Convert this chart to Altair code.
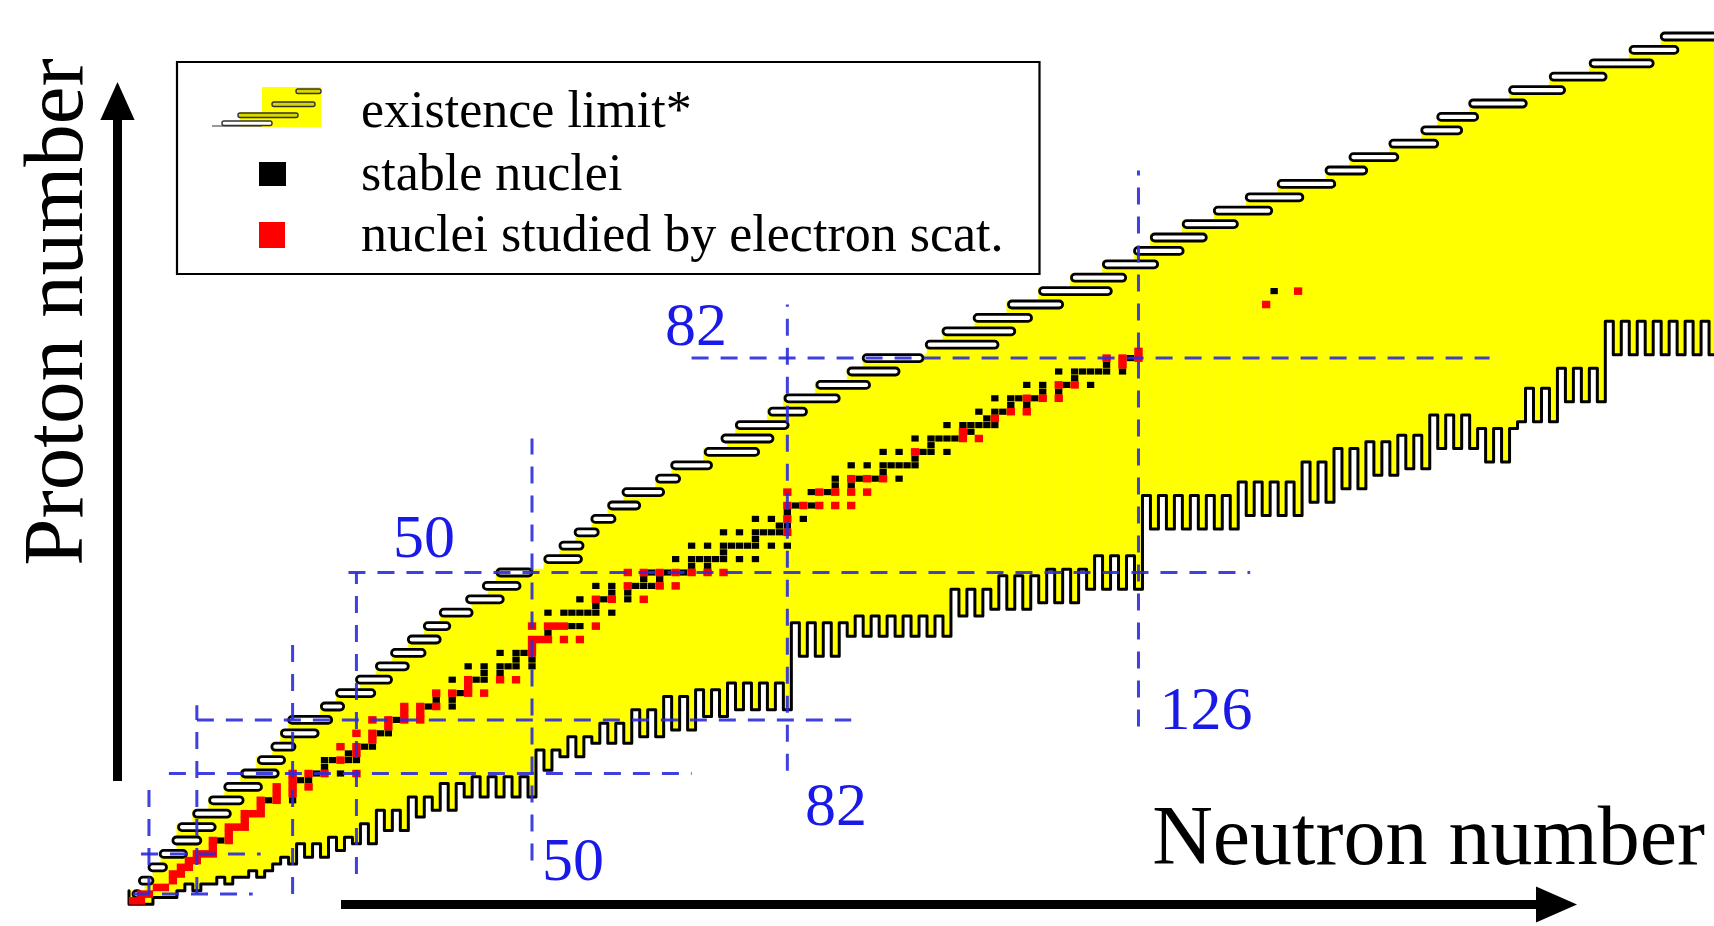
import altair as alt
import pandas as pd

W, H = 1714, 926

# ---------------- values ----------------
# proton-rich existence limit: rows (Z) with an unbound "finger", and its N extent
BAR_Z = [2, 4, 6, 8, 10, 12, 14, 16, 18, 20, 22, 24, 26, 28, 30, 32, 34, 36, 38, 40,
         42, 44, 46, 48, 50, 52, 54, 56, 58, 60, 62, 64, 66, 68, 70, 72, 74, 76, 78, 80,
         82, 84, 86, 88, 90, 92, 94, 96, 98, 100, 102, 104, 106, 108, 110, 112, 114, 116,
         118, 120, 122, 124, 126, 128, 130]
BAR_NL = [0.0, 0.8, 2.0, 3.4, 5.0, 5.7, 7.6, 9.6, 11.5, 13.6, 15.7, 17.4, 18.6, 19.5, 23.6,
          25.5, 28.0, 30.5, 32.4, 34.5, 36.5, 38.5, 41.8, 43.9, 45.6, 51.6, 53.5, 55.4, 57.5,
          59.6, 61.4, 65.6, 67.5, 71.7, 73.8, 75.6, 79.7, 81.7, 85.7, 89.6, 91.5, 99.4, 101.5,
          105.4, 109.7, 113.6, 117.6, 121.6, 125.5, 127.6, 131.6, 135.5, 139.5, 143.5, 149.5,
          152.5, 157.5, 161.5, 163.5, 167.5, 172.5, 177.6, 182.6, 187.6, 191.5]
BAR_NR = [1.0, 2.5, 4.2, 6.7, 8.5, 10.3, 12.2, 13.8, 16.1, 18.2, 19.0, 20.3, 23.2, 24.9, 26.4,
          30.3, 32.4, 34.5, 36.6, 38.5, 39.7, 42.5, 46.4, 48.5, 50.0, 56.2, 56.4, 58.3, 60.4,
          63.5, 66.5, 68.5, 72.5, 78.4, 80.2, 82.1, 84.4, 88.5, 92.3, 96.0, 99.0, 108.4, 110.5,
          112.6, 116.5, 122.6, 124.4, 128.4, 131.6, 134.5, 138.4, 142.7, 146.6, 150.6, 154.6,
          158.5, 163.5, 166.5, 168.5, 174.6, 179.4, 184.6, 190.5, 193.6, 200.0]

# neutron-rich existence limit: lowest bound Z per N range (even N / odd N)
SEG_N_START = [0, 3, 6, 10, 14, 18, 21, 25, 28, 31, 35, 38, 42, 51, 54, 58, 63, 67, 71,
               75, 83, 90, 103, 108, 114, 120, 127, 139, 147, 151, 155, 159, 163, 169,
               174, 179, 185]
SEG_N_END = [2, 5, 9, 13, 17, 20, 24, 27, 30, 34, 37, 41, 50, 53, 57, 62, 66, 70, 74,
             82, 89, 102, 107, 113, 119, 126, 138, 146, 150, 154, 158, 162, 168, 173,
             178, 184, 200]
SEG_Z_EVEN_N = [1, 2, 3, 4, 5, 7, 8, 9, 10, 12, 14, 15, 17, 21, 23, 25, 26, 27, 29,
                30, 38, 41, 44, 45, 46, 48, 57, 59, 61, 63, 65, 66, 69, 67, 73, 76, 83]
SEG_Z_ODD_N = [1, 2, 4, 5, 6, 8, 10, 11, 13, 15, 17, 19, 20, 24, 26, 28, 30, 32, 33,
               34, 43, 44, 48, 50, 51, 53, 62, 64, 67, 69, 70, 71, 74, 72, 78, 81, 88]

# stable nuclei: element Z and its stable mass numbers
STABLE_Z = [1, 2, 3, 4, 5, 6, 7, 8, 9, 10, 11, 12, 13, 14, 15, 16, 17, 18, 19, 20, 21, 22,
            23, 24, 25, 26, 27, 28, 29, 30, 31, 32, 33, 34, 35, 36, 37, 38, 39, 40, 41, 42,
            44, 45, 46, 47, 48, 49, 50, 51, 52, 53, 54, 55, 56, 57, 58, 59, 60, 62, 63, 64,
            65, 66, 67, 68, 69, 70, 71, 72, 73, 74, 75, 76, 77, 78, 79, 80, 81, 82, 83, 90, 92]
STABLE_A = [[1, 2], [3, 4], [6, 7], [9], [10, 11], [12, 13], [14, 15], [16, 17, 18], [19],
            [20, 21, 22], [23], [24, 25, 26], [27], [28, 29, 30], [31], [32, 33, 34, 36],
            [35, 37], [36, 38, 40], [39, 40, 41], [40, 42, 43, 44, 46, 48], [45],
            [46, 47, 48, 49, 50], [50, 51], [50, 52, 53, 54], [55], [54, 56, 57, 58], [59],
            [58, 60, 61, 62, 64], [63, 65], [64, 66, 67, 68, 70], [69, 71],
            [70, 72, 73, 74, 76], [75], [74, 76, 77, 78, 80, 82], [79, 81],
            [78, 80, 82, 83, 84, 86], [85, 87], [84, 86, 87, 88], [89], [90, 91, 92, 94, 96],
            [93], [92, 94, 95, 96, 97, 98, 100], [96, 98, 99, 100, 101, 102, 104], [103],
            [102, 104, 105, 106, 108, 110], [107, 109], [106, 108, 110, 111, 112, 113, 114, 116],
            [113, 115], [112, 114, 115, 116, 117, 118, 119, 120, 122, 124], [121, 123],
            [120, 122, 123, 124, 125, 126, 128, 130], [127],
            [124, 126, 128, 129, 130, 131, 132, 134, 136], [133],
            [130, 132, 134, 135, 136, 137, 138], [138, 139], [136, 138, 140, 142], [141],
            [142, 143, 144, 145, 146, 148, 150], [144, 147, 148, 149, 150, 152, 154],
            [151, 153], [152, 154, 155, 156, 157, 158, 160], [159],
            [156, 158, 160, 161, 162, 163, 164], [165], [162, 164, 166, 167, 168, 170], [169],
            [168, 170, 171, 172, 173, 174, 176], [175, 176], [174, 176, 177, 178, 179, 180],
            [180, 181], [180, 182, 183, 184, 186], [185, 187],
            [184, 186, 187, 188, 189, 190, 192], [191, 193], [190, 192, 194, 195, 196, 198],
            [197], [196, 198, 199, 200, 201, 202, 204], [203, 205], [204, 206, 207, 208],
            [209], [232], [235, 238]]

# nuclei studied by electron scattering
STUDIED_Z = [1, 2, 3, 4, 5, 6, 7, 8, 9, 10, 11, 12, 13, 14, 15, 16, 17, 18, 19, 20, 22, 23,
             24, 25, 26, 27, 28, 29, 30, 32, 33, 34, 38, 39, 40, 42, 46, 48, 50, 56, 58, 60,
             62, 64, 68, 70, 71, 73, 74, 76, 78, 81, 82, 83, 90, 92]
STUDIED_A = [[1, 2], [3, 4], [6, 7], [9], [10, 11], [12, 13], [14, 15], [16, 17, 18], [19],
             [20, 22], [23], [24, 25, 26], [27], [28, 29, 30], [31], [32, 34], [35, 37],
             [36, 38, 40], [39], [40, 42, 44, 48], [48], [51], [50, 52], [55], [54, 56], [59],
             [58, 60, 62, 64], [63, 65], [64, 66, 68], [70, 72, 74, 76], [75], [76, 80, 82],
             [88], [89], [90, 91, 92, 94, 96], [92, 94, 95, 96, 100], [104, 106, 110],
             [110, 114, 116], [112, 114, 116, 118, 120, 122, 124], [138], [140],
             [142, 144, 146, 148, 150], [144, 148, 150, 152, 154], [154, 156, 158], [166],
             [174, 176], [175], [181], [184, 186], [188, 190, 192], [194, 196], [205],
             [204, 206, 208], [209], [232], [238]]

# magic-number guide lines
MAGIC_V_N = [2, 8, 20, 28, 50, 82, 126]
MAGIC_V_ZLO = [2.0, 2.0, 2.0, 5.0, 7.0, 20.4, 27.0]
MAGIC_V_ZHI = [18.6, 30.2, 40.0, 50.0, 70.0, 90.0, 110.0]
MAGIC_H_Z = [2, 8, 20, 28, 50, 82]
MAGIC_H_NLO = [0.0, 1.0, 4.5, 8.0, 27.0, 70.0]
MAGIC_H_NHI = [15.0, 16.0, 70.0, 90.0, 140.0, 170.0]

# ---------------- layout (pixels) ----------------
X_ORIGIN, X_STEP = 133.0, 7.98
Y_ORIGIN, Y_STEP = 907.5, 6.70
XS = alt.Scale(domain=[-X_ORIGIN / X_STEP, (W - X_ORIGIN) / X_STEP], nice=False, zero=False)
YS = alt.Scale(domain=[(Y_ORIGIN - H) / Y_STEP, Y_ORIGIN / Y_STEP], nice=False, zero=False)
BLUE = "#1a1ae8"
DASH_BLUE = "#2b2bdc"
SERIF = "Liberation Serif"


def xq(f):
    return alt.X(f"{f}:Q", scale=XS, axis=None)


def yq(f):
    return alt.Y(f"{f}:Q", scale=YS, axis=None)


# ---------------- tables built from the arrays ----------------
zmin = {}
for s, e, ze, zo in zip(SEG_N_START, SEG_N_END, SEG_Z_EVEN_N, SEG_Z_ODD_N):
    for n in range(s, e + 1):
        zmin[n] = ze if n % 2 == 0 else zo

cols = []
for n in sorted(zmin):
    tops = [z for z, nl in zip(BAR_Z, BAR_NL) if nl <= n - 0.3]
    if not tops:
        tops = [BAR_Z[0]]
    cols.append({"n0": n - 0.5, "n1": n + 0.5, "z0": zmin[n] - 0.5, "z1": max(tops) + 0.5})
col_df = pd.DataFrame(cols)

bar_df = pd.DataFrame({"n0": BAR_NL, "n1": BAR_NR,
                       "z0": [z - 0.52 for z in BAR_Z], "z1": [z + 0.52 for z in BAR_Z]})

pts = [{"n": -0.5, "z": 2.5}]
for n in sorted(zmin):
    pts.append({"n": n - 0.5, "z": zmin[n] - 0.5})
    pts.append({"n": n + 0.5, "z": zmin[n] - 0.5})
line_df = pd.DataFrame(pts)
line_df["i"] = range(len(line_df))


def nuclide_table(zs, masses, hw, hh):
    rows = []
    for z, alist in zip(zs, masses):
        for a in alist:
            n = a - z
            rows.append({"n0": n - hw, "n1": n + hw, "z0": z - hh, "z1": z + hh})
    return pd.DataFrame(rows)


stable_df = nuclide_table(STABLE_Z, STABLE_A, 0.46, 0.46)
studied_df = nuclide_table(STUDIED_Z, STUDIED_A, 0.52, 0.56)

mv_df = pd.DataFrame({"n": MAGIC_V_N, "z0": MAGIC_V_ZLO, "z1": MAGIC_V_ZHI})
mh_df = pd.DataFrame({"z": MAGIC_H_Z, "n0": MAGIC_H_NLO, "n1": MAGIC_H_NHI})

ONE = pd.DataFrame({"k": [0]})

# ---------------- layers ----------------
yellow = alt.Chart(col_df).mark_rect(color="#ffff00", stroke="#ffff00", strokeWidth=0.7).encode(
    x=xq("n0"), x2="n1", y=yq("z0"), y2="z1")
bars = alt.Chart(bar_df).mark_rect(fill="white", stroke="black", strokeWidth=2.8,
                                   cornerRadius=4).encode(
    x=xq("n0"), x2="n1", y=yq("z0"), y2="z1")
nline = alt.Chart(line_df).mark_line(color="black", strokeWidth=3.0, strokeJoin="round",
                                     strokeCap="round").encode(
    x=xq("n"), y=yq("z"), order="i:Q")
stable = alt.Chart(stable_df).mark_rect(color="black").encode(
    x=xq("n0"), x2="n1", y=yq("z0"), y2="z1")
studied = alt.Chart(studied_df).mark_rect(color="#ff0000").encode(
    x=xq("n0"), x2="n1", y=yq("z0"), y2="z1")
magic_v = alt.Chart(mv_df).mark_rule(color=DASH_BLUE, strokeWidth=3.0, strokeDash=[17, 12],
                                     opacity=0.9).encode(x=xq("n"), y=yq("z0"), y2="z1")
magic_h = alt.Chart(mh_df).mark_rule(color=DASH_BLUE, strokeWidth=3.0, strokeDash=[17, 12],
                                     opacity=0.9).encode(y=yq("z"), x=xq("n0"), x2="n1")


def label(text, x, y, size, color="black", angle=0, align="center"):
    return alt.Chart(ONE).mark_text(text=text, font=SERIF, fontSize=size, color=color,
                                    align=align, baseline="alphabetic", angle=angle).encode(
        x=alt.value(x), y=alt.value(y))


def box(x0, y0, x1, y1, **kw):
    return alt.Chart(ONE).mark_rect(**kw).encode(
        x=alt.value(x0), x2=alt.value(x1), y=alt.value(y0), y2=alt.value(y1))


def rule(x0, y0, x1, y1, **kw):
    return alt.Chart(ONE).mark_rule(**kw).encode(
        x=alt.value(x0), x2=alt.value(x1), y=alt.value(y0), y2=alt.value(y1))


def head(shape, x, y, size):
    return alt.Chart(ONE).mark_point(shape=shape, size=size, filled=True, color="black",
                                     opacity=1, strokeWidth=0).encode(
        x=alt.value(x), y=alt.value(y))


magic_labels = [
    label("50", 424, 557, 62, BLUE),
    label("82", 696, 345, 62, BLUE),
    label("50", 573, 880, 62, BLUE),
    label("82", 836, 825, 62, BLUE),
    label("126", 1206, 729, 62, BLUE),
]

axes = [
    rule(117.5, 781, 117.5, 112, color="black", strokeWidth=9),
    head("M0,-1L0.9,1L-0.9,1Z", 117.5, 101, 1444),
    rule(341, 904.5, 1540, 904.5, color="black", strokeWidth=9),
    head("M1,0L-1,0.88L-1,-0.88Z", 1556.5, 904.5, 1681),
    label("Proton number", 82, 312, 85, angle=270),
    label("Neutron number", 1705, 864, 84, align="right"),
]

legend = [
    box(177, 62, 1039.5, 274, fill="white", stroke="black", strokeWidth=2.2),
    box(262, 87, 321, 127, color="#ffff00"),
    box(240, 112, 262, 127, color="#ffff00"),
    rule(212, 126, 262, 126, color="#777777", strokeWidth=1.5),
    box(222, 121, 272, 125.5, fill="white", stroke="#333333", strokeWidth=1.4, cornerRadius=2),
    box(238, 113, 298, 117.5, fill="#d8d800", stroke="#333333", strokeWidth=1.4, cornerRadius=2),
    box(272, 102, 315, 106.5, fill="#d8d800", stroke="#333333", strokeWidth=1.4, cornerRadius=2),
    box(296, 89, 321, 93.5, fill="#d8d800", stroke="#333333", strokeWidth=1.4, cornerRadius=2),
    box(259, 162, 286, 186, color="black"),
    box(259, 222, 285, 248, color="#ff0000"),
    label("existence limit*", 361, 127, 52, align="left"),
    label("stable nuclei", 361, 190, 52, align="left"),
    label("nuclei studied by electron scat.", 361, 251, 52, align="left"),
]

chart = alt.layer(
    yellow, bars, nline, stable, studied, magic_v, magic_h,
    *magic_labels, *axes, *legend
).properties(
    width=W, height=H, padding=0, autosize=alt.AutoSizeParams(type="none"),
    background="white"
).configure_view(stroke=None)

chart.save("out.html", embed_options={"renderer": "svg", "actions": False})
